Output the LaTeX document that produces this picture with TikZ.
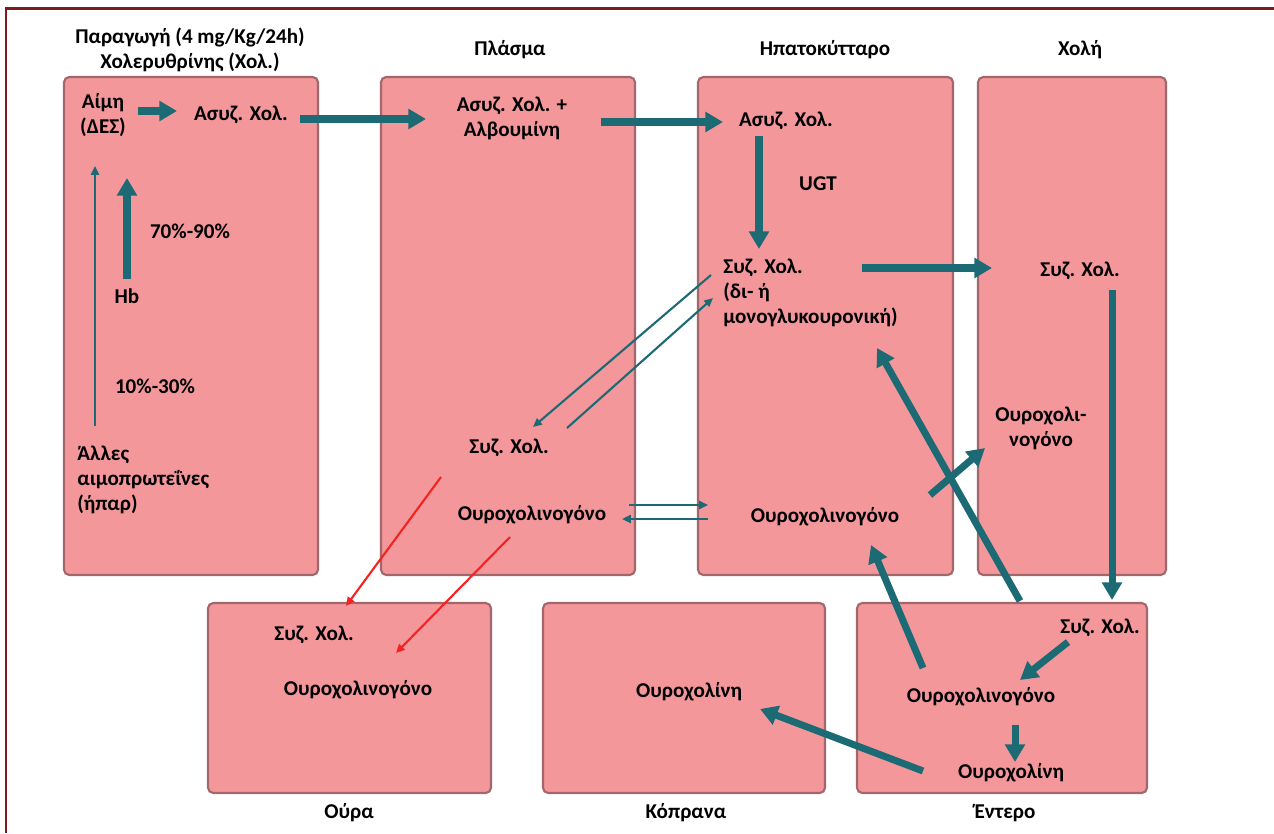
\documentclass[tikz,border=0pt]{standalone}
\usepackage{fontspec}
\setmainfont{Carlito}
\usepackage{tikz}
\usetikzlibrary{arrows.meta}

\definecolor{boxpink}{HTML}{F3979B}
\definecolor{boxrim}{HTML}{A3666A}
\definecolor{arrteal}{HTML}{1C6A74}
\definecolor{redarr}{HTML}{F52222}
\definecolor{framered}{HTML}{7A1C1C}

\begin{document}
\begin{tikzpicture}[x=0.02cm,y=-0.02cm]
	\fontsize{12pt}{14.2pt}\selectfont
	\def \headline{50}
	\def \boxtop{77}
	\def \boxbot{575}
	\def \lowtop{603}
	\def \lowbot{793}
	\def \footline{813}

	\tikzstyle{b-node}=[draw=boxrim,fill=boxpink,line width=1.2pt,rounded corners=3pt]
	\tikzstyle{t-node}=[font=\bfseries,inner sep=0pt,align=center]
	\tikzstyle{l-node}=[font=\bfseries,inner sep=0pt,align=left,anchor=west]
	\tikzstyle{w-edge}=[draw=arrteal,line width=4pt,-{Triangle[width=11pt,length=10pt]}]
	\tikzstyle{n-edge}=[draw=arrteal,line width=1.2pt,-{Triangle[width=4.5pt,length=5pt]}]
	\tikzstyle{r-edge}=[draw=redarr,line width=1.2pt,-{Triangle[width=4.5pt,length=5pt]}]

	\useasboundingbox (0,0) rectangle (1274,833);
	\draw[framered,line width=1.7pt] (6,833) -- (6,8) -- (1274,8);

	% boxes
	\draw[b-node] (64,\boxtop) rectangle (318,\boxbot);
	\draw[b-node] (381,\boxtop) rectangle (635,\boxbot);
	\draw[b-node] (698,\boxtop) rectangle (953,\boxbot);
	\draw[b-node] (978,\boxtop) rectangle (1166,\boxbot);
	\draw[b-node] (208,\lowtop) rectangle (491,\lowbot);
	\draw[b-node] (543,\lowtop) rectangle (825,\lowbot);
	\draw[b-node] (857,\lowtop) rectangle (1147,\lowbot);

	% headings
	\node[t-node] (h-prod)	at (190,\headline)	{Παραγωγή (4 mg/Kg/24h)\\Χολερυθρίνης (Χολ.)};
	\node[t-node] (h-plasma)	at (510,\headline)	{Πλάσμα};
	\node[t-node] (h-hep)	at (825,\headline)	{Ηπατοκύτταρο};
	\node[t-node] (h-bile)	at (1080,\headline)	{Χολή};
	\node[t-node] (h-urine)	at (349,\footline)	{Ούρα};
	\node[t-node] (h-faeces)	at (686,\footline)	{Κόπρανα};
	\node[t-node] (h-gut)	at (1005,\footline)	{Έντερο};

	% blood
	\node[t-node] (aim)	at (103,115)	{Αίμη\\(ΔΕΣ)};
	\node[t-node] (asyz0)	at (241,115)	{Ασυζ. Χολ.};
	\node[t-node] (p7090)	at (190,231)	{70\%-90\%};
	\node[t-node] (hb)	at (127,296)	{Hb};
	\node[t-node] (p1030)	at (155,386)	{10\%-30\%};
	\node[l-node] (other)	at (77,480)	{Άλλες\\αιμοπρωτεΐνες\\(ήπαρ)};

	% plasma
	\node[t-node] (asyz1)	at (512,118)	{Ασυζ. Χολ. +\\Αλβουμίνη};
	\node[t-node] (syz1)	at (509,448)	{Συζ. Χολ.};
	\node[t-node] (uro1)	at (532,515)	{Ουροχολινογόνο};

	% hepatocyte
	\node[t-node] (asyz2)	at (786,121)	{Ασυζ. Χολ.};
	\node[t-node] (ugt)	at (818,184)	{UGT};
	\node[l-node] (syz2)	at (723,293)	{Συζ. Χολ.\\(δι- ή\\μονογλυκουρονική)};
	\node[t-node] (uro2)	at (825,517)	{Ουροχολινογόνο};

	% bile
	\node[t-node] (syz3)	at (1080,271)	{Συζ. Χολ.};
	\node[t-node] (uro3)	at (1041,428)	{Ουροχολι-\\νογόνο};

	% urine, faeces, gut
	\node[t-node] (syz4)	at (314,635)	{Συζ. Χολ.};
	\node[t-node] (uro4)	at (358,690)	{Ουροχολινογόνο};
	\node[t-node] (ubil5)	at (689,692)	{Ουροχολίνη};
	\node[t-node] (syz6)	at (1100,628)	{Συζ. Χολ.};
	\node[t-node] (uro6)	at (981,697)	{Ουροχολινογόνο};
	\node[t-node] (ubil6)	at (1011,773)	{Ουροχολίνη};

	% arrow ends
	\coordinate (aim-o)	at (138,111);
	\coordinate (asyz0-i)	at (177,111);
	\coordinate (asyz0-o)	at (300,119);
	\coordinate (asyz1-i)	at (426,119);
	\coordinate (asyz1-o)	at (601,122);
	\coordinate (asyz2-i)	at (723,122);
	\coordinate (asyz2-o)	at (759,136);
	\coordinate (syz2-i)	at (759,249);
	\coordinate (syz2-o)	at (862,268);
	\coordinate (syz3-i)	at (992,268);
	\coordinate (syz3-o)	at (1112,290);
	\coordinate (syz6-i)	at (1112,600);
	\coordinate (syz6-o)	at (1068,642);
	\coordinate (uro6-i)	at (1020,680);
	\coordinate (uro6-o)	at (1015,725);
	\coordinate (ubil6-i)	at (1015,762);
	\coordinate (ubil6-o)	at (923,771);
	\coordinate (ubil5-i)	at (760,709);
	\coordinate (uro6-up)	at (923,668);
	\coordinate (uro2-i)	at (871,545);
	\coordinate (gut-o)	at (1020,601);
	\coordinate (syz2-b)	at (877,348);
	\coordinate (uro2-o)	at (930,495);
	\coordinate (uro3-i)	at (985,448);
	\coordinate (hb-o)	at (127,279);
	\coordinate (hb-i)	at (127,178);
	\coordinate (other-o)	at (95,426);
	\coordinate (other-i)	at (95,166);
	\coordinate (syz2-l)	at (711,275);
	\coordinate (syz1-i)	at (533,427);
	\coordinate (syz1-o)	at (567,428);
	\coordinate (syz2-li)	at (713,298);
	\coordinate (uro1-o)	at (629,505);
	\coordinate (uro2-li)	at (708,505);
	\coordinate (uro2-lo)	at (708,519);
	\coordinate (uro1-i)	at (622,519);
	\coordinate (syz1-r)	at (441,477);
	\coordinate (syz4-i)	at (346,606);
	\coordinate (uro1-r)	at (510,537);
	\coordinate (uro4-i)	at (396,653);

	\path
		(aim-o)	edge[w-edge]	(asyz0-i)
		(asyz0-o)	edge[w-edge]	(asyz1-i)
		(asyz1-o)	edge[w-edge]	(asyz2-i)
		(asyz2-o)	edge[w-edge]	(syz2-i)
		(syz2-o)	edge[w-edge]	(syz3-i)
		(syz3-o)	edge[w-edge]	(syz6-i)
		(syz6-o)	edge[w-edge]	(uro6-i)
		(uro6-o)	edge[w-edge]	(ubil6-i)
		(ubil6-o)	edge[w-edge]	(ubil5-i)
		(uro6-up)	edge[w-edge]	(uro2-i)
		(gut-o)	edge[w-edge]	(syz2-b)
		(uro2-o)	edge[w-edge]	(uro3-i)
		(hb-o)	edge[w-edge]	(hb-i)
		%
		(other-o)	edge[n-edge]	(other-i)
		(syz2-l)	edge[n-edge]	(syz1-i)
		(syz1-o)	edge[n-edge]	(syz2-li)
		(uro1-o)	edge[n-edge]	(uro2-li)
		(uro2-lo)	edge[n-edge]	(uro1-i)
		%
		(syz1-r)	edge[r-edge]	(syz4-i)
		(uro1-r)	edge[r-edge]	(uro4-i);
\end{tikzpicture}
\end{document}
